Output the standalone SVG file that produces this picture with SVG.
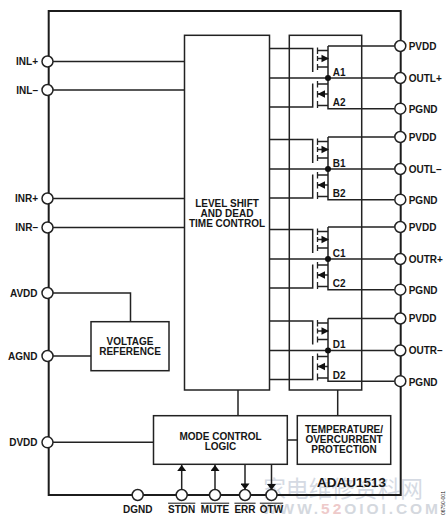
<svg xmlns="http://www.w3.org/2000/svg" width="446" height="519" viewBox="0 0 446 519">
<style>
text{font-family:"Liberation Sans",Arial,"Noto Sans CJK SC",sans-serif;font-weight:700;font-size:10px;fill:#161616}
.m{text-anchor:middle}
.e{text-anchor:end}
.o{text-decoration:overline}
.b{fill:#fff;stroke:#222;stroke-width:1.5}
.l{fill:none;stroke:#222;stroke-width:1.5}
.t{fill:none;stroke:#222;stroke-width:1.3}
.pin{fill:#fff;stroke:#222;stroke-width:1.5}
.wm{fill:#d5dae3;font-size:23px;font-weight:400}
.ww{fill:#d4d8de;font-size:15.5px;font-weight:700}
</style>
<defs>
<marker id="ah" viewBox="0 0 6 9" refX="6" refY="4.500" markerWidth="6.500" markerHeight="9" markerUnits="userSpaceOnUse" orient="auto"><path d="M0 0L6 4.500L0 9z" fill="#111"/></marker>
<g id="fets">
<path class="l" d="M270 48.500H312.700V72M270 78H394.500M312.700 83.500V107H270M328 46H394.500M328 46V78M328 78V108.700H394.500"/>
<path class="t" d="M317.500 47.500V54M317.500 56V61M317.500 64V70M317.500 50.500H328M317.500 58.500H328M317.500 67H328"/>
<path class="t" d="M317.500 81V87.500M317.500 91V97.500M317.500 101V108M317.500 84H328M317.500 94H328M317.500 105.500H328"/>
<path d="M329 58.500L321.500 54.800V62.200z" fill="#111"/>
<path d="M317.500 94L325 90.300V97.700z" fill="#111"/>
<circle cx="328" cy="78" r="3" fill="#111"/>
</g>
</defs>

<g id="watermark">
<text class="wm" x="263" y="497" textLength="160">家电维修资料网</text>
<text class="ww" x="262" y="514" textLength="176"><tspan>WWW.</tspan><tspan fill="#eecaca">52</tspan><tspan>OIOI.COM</tspan></text>
</g>

<g id="connectors">
<path class="l" d="M53 61.500H184.500M53 90H184.500M53 198.500H184.500M53 227.500H184.500M53 293H130.500V321.700M53 356H91M53 442.300H153.500M238 390V415.700M337.700 390V415.700M287.300 440H297.300"/>
<path class="l" d="M181.700 489.500V465" marker-end="url(#ah)"/>
<path class="l" d="M215 489.500V465" marker-end="url(#ah)"/>
<path class="l" d="M245 464.300V489.500" marker-end="url(#ah)"/>
<path class="l" d="M271.500 464.300V490" marker-end="url(#ah)"/>
</g>

<g id="chip"><rect x="48.700" y="11" width="352" height="484" fill="none" stroke="#1c1c1c" stroke-width="2"/></g>

<g id="fet-box"><rect class="b" x="289.300" y="35.300" width="72.400" height="354.700"/></g>
<g id="level-shift">
<rect class="b" x="184.500" y="35.300" width="85" height="354.700"/>
<text class="m" x="227" y="207">LEVEL SHIFT</text>
<text class="m" x="227" y="217">AND DEAD</text>
<text class="m" x="227" y="227">TIME CONTROL</text>
</g>

<g id="fets-a"><use href="#fets"/><text x="332.700" y="75.500">A1</text><text x="332.700" y="106">A2</text></g>
<g id="fets-b"><use href="#fets" y="91"/><text x="332.700" y="166.500">B1</text><text x="332.700" y="197">B2</text></g>
<g id="fets-c"><use href="#fets" y="181"/><text x="332.700" y="256.500">C1</text><text x="332.700" y="287">C2</text></g>
<g id="fets-d"><use href="#fets" y="272.500"/><text x="332.700" y="348">D1</text><text x="332.700" y="378.500">D2</text></g>

<g id="voltage-reference">
<rect class="b" x="91" y="321.700" width="78" height="49"/>
<text class="m" x="130" y="345">VOLTAGE</text>
<text class="m" x="130" y="355">REFERENCE</text>
</g>
<g id="mode-control">
<rect class="b" x="153.500" y="415.700" width="133.800" height="48.600"/>
<text class="m" x="220.500" y="439.500">MODE CONTROL</text>
<text class="m" x="220.500" y="449.500">LOGIC</text>
</g>
<g id="protection">
<rect class="b" x="297.300" y="415.700" width="93.400" height="48.600"/>
<text class="m" x="344" y="432.500">TEMPERATURE/</text>
<text class="m" x="344" y="442.500">OVERCURRENT</text>
<text class="m" x="344" y="452.500">PROTECTION</text>
</g>

<g id="pin-inlp"><circle class="pin" cx="47.500" cy="61.500" r="5.500"/><text class="e" x="38" y="65">INL+</text></g>
<g id="pin-inlm"><circle class="pin" cx="47.500" cy="90" r="5.500"/><text class="e" x="38" y="93.500">INL–</text></g>
<g id="pin-inrp"><circle class="pin" cx="47.500" cy="198.500" r="5.500"/><text class="e" x="38" y="202">INR+</text></g>
<g id="pin-inrm"><circle class="pin" cx="47.500" cy="227.500" r="5.500"/><text class="e" x="38" y="231">INR–</text></g>
<g id="pin-avdd"><circle class="pin" cx="47.500" cy="293" r="5.500"/><text class="e" x="37.500" y="296.500">AVDD</text></g>
<g id="pin-agnd"><circle class="pin" cx="47.500" cy="356" r="5.500"/><text class="e" x="37.500" y="360">AGND</text></g>
<g id="pin-dvdd"><circle class="pin" cx="47.500" cy="442.300" r="5.500"/><text class="e" x="37.500" y="446">DVDD</text></g>

<g id="pin-pvdd1"><circle class="pin" cx="400.300" cy="46" r="5.500"/><text x="408.700" y="49.500">PVDD</text></g>
<g id="pin-outlp"><circle class="pin" cx="400.300" cy="78" r="5.500"/><text x="408.700" y="81.500">OUTL+</text></g>
<g id="pin-pgnd1"><circle class="pin" cx="400.300" cy="108.700" r="5.500"/><text x="408.700" y="112.500">PGND</text></g>
<g id="pin-pvdd2"><circle class="pin" cx="400.300" cy="137" r="5.500"/><text x="408.700" y="140.500">PVDD</text></g>
<g id="pin-outlm"><circle class="pin" cx="400.300" cy="169" r="5.500"/><text x="408.700" y="172.500">OUTL–</text></g>
<g id="pin-pgnd2"><circle class="pin" cx="400.300" cy="199.700" r="5.500"/><text x="408.700" y="203.500">PGND</text></g>
<g id="pin-pvdd3"><circle class="pin" cx="400.300" cy="227" r="5.500"/><text x="408.700" y="230.500">PVDD</text></g>
<g id="pin-outrp"><circle class="pin" cx="400.300" cy="259" r="5.500"/><text x="408.700" y="262.500">OUTR+</text></g>
<g id="pin-pgnd3"><circle class="pin" cx="400.300" cy="289.700" r="5.500"/><text x="408.700" y="293.500">PGND</text></g>
<g id="pin-pvdd4"><circle class="pin" cx="400.300" cy="318.500" r="5.500"/><text x="408.700" y="322">PVDD</text></g>
<g id="pin-outrm"><circle class="pin" cx="400.300" cy="350.500" r="5.500"/><text x="408.700" y="354">OUTR–</text></g>
<g id="pin-pgnd4"><circle class="pin" cx="400.300" cy="381.200" r="5.500"/><text x="408.700" y="385.500">PGND</text></g>

<g id="pin-dgnd"><circle class="pin" cx="137.700" cy="495" r="5.500"/><text class="m" x="137.700" y="512.700">DGND</text></g>
<g id="pin-stdn"><circle class="pin" cx="181.700" cy="495" r="5.500"/><text class="m o" x="181.700" y="512.700">STDN</text></g>
<g id="pin-mute"><circle class="pin" cx="215" cy="495" r="5.500"/><text class="m o" x="215" y="512.700">MUTE</text></g>
<g id="pin-err"><circle class="pin" cx="245" cy="495" r="5.500"/><text class="m o" x="245" y="512.700">ERR</text></g>
<g id="pin-otw"><circle class="pin" cx="271.500" cy="495" r="5.500"/><text class="m o" x="271.500" y="512.700">OTW</text></g>

<text id="part" x="317" y="487" style="font-size:13.500px">ADAU1513</text>
<text id="figure-number" transform="translate(445,515) rotate(-90)" style="font-size:5px;font-weight:400">06750-001</text>
</svg>
